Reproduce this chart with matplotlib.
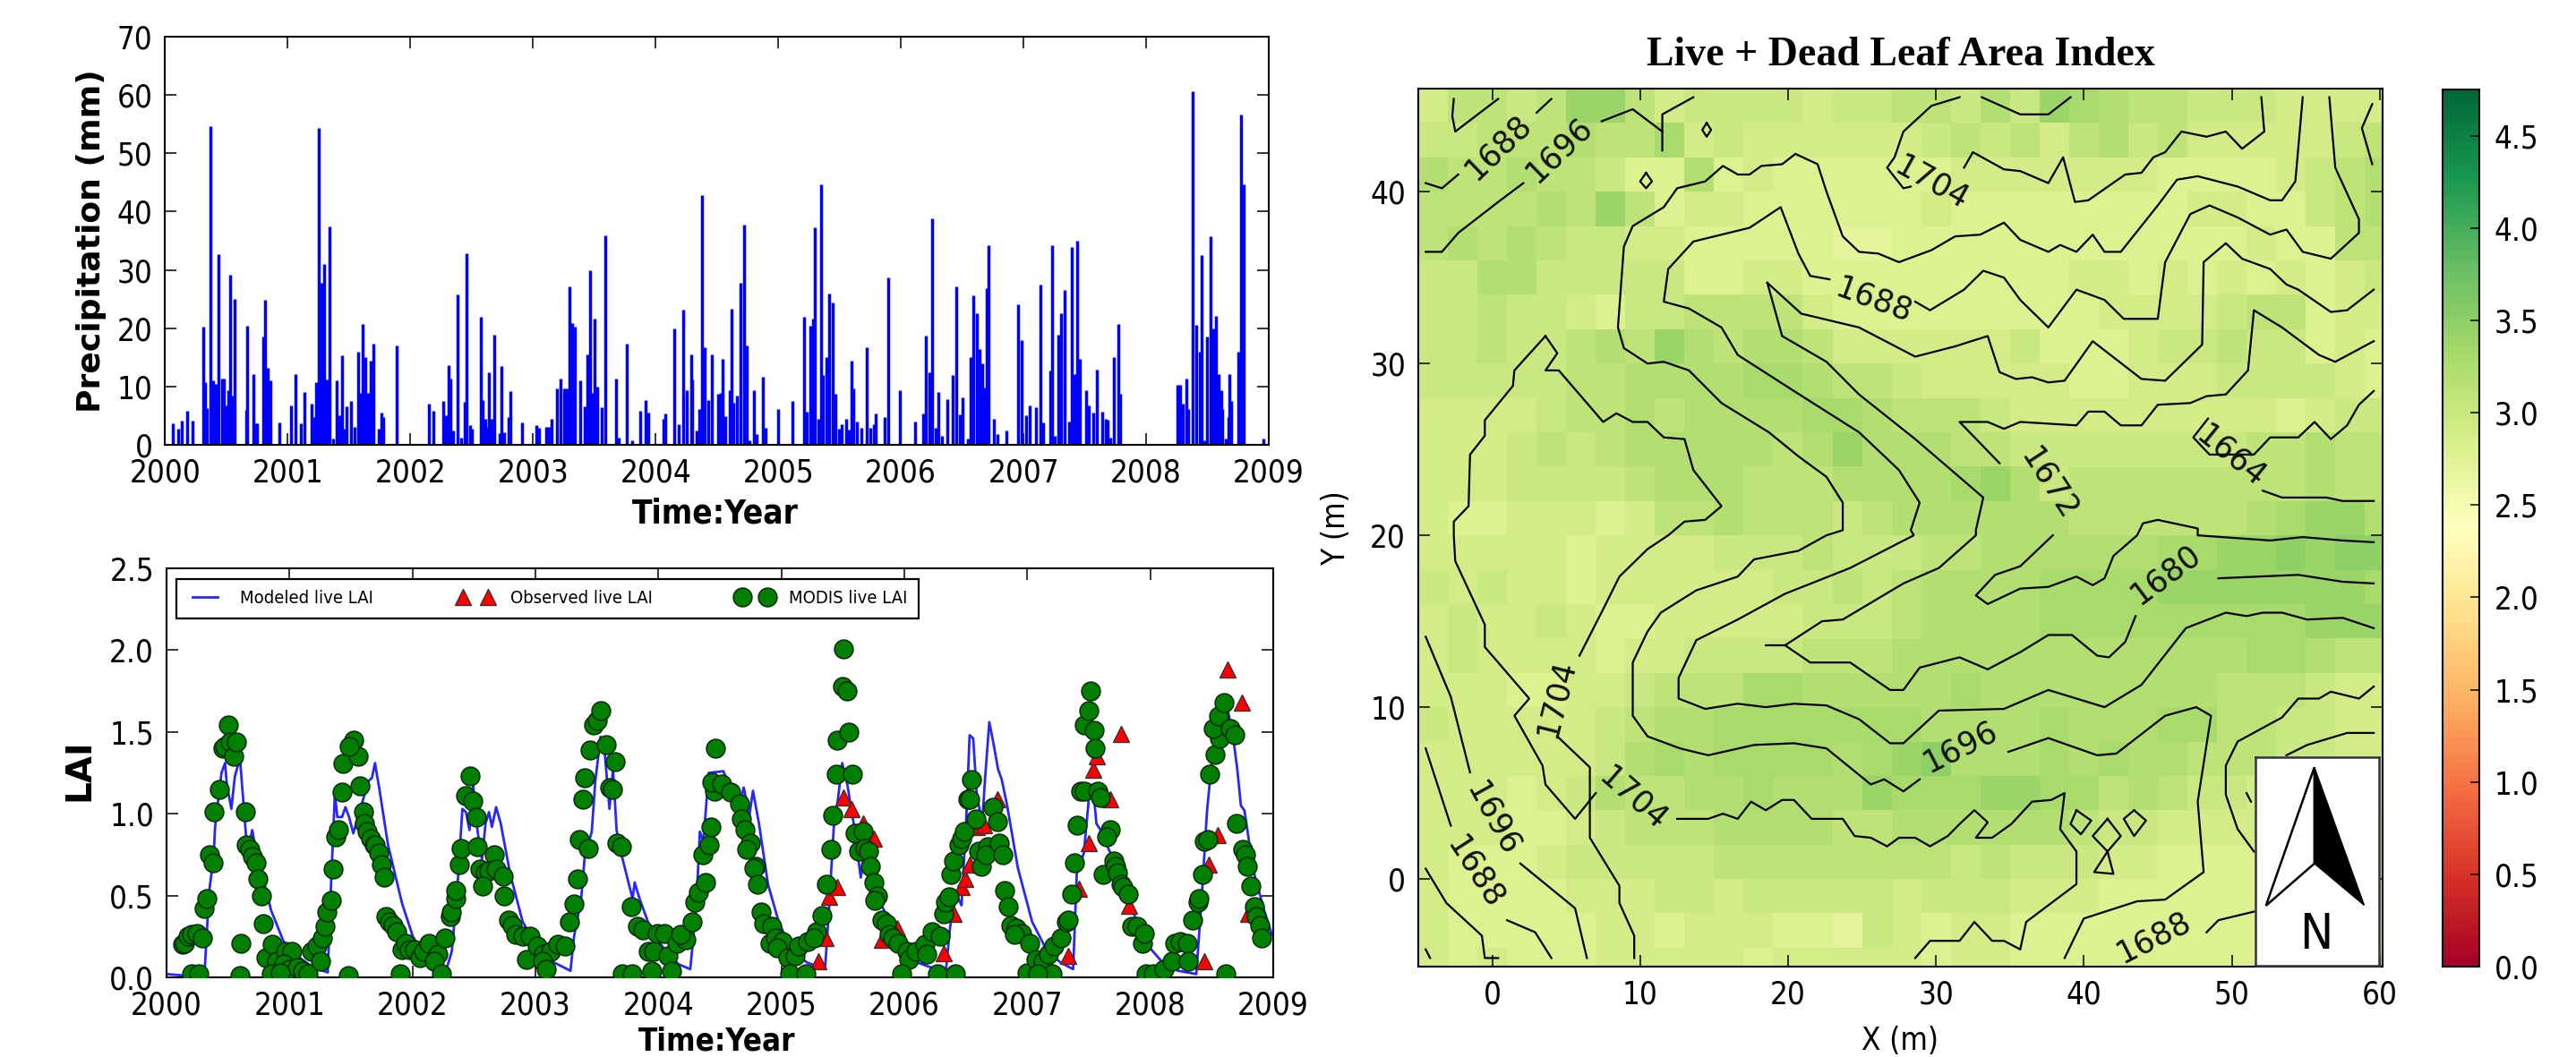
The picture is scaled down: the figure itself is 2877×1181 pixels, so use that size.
import matplotlib
matplotlib.use("Agg")
import matplotlib.pyplot as plt
from matplotlib.cm import ScalarMappable
from matplotlib.colors import Normalize
from matplotlib.patches import Polygon

# ---------- precipitation (years since 2000, mm) ----------
rain_years = [0.063,0.104,0.135,0.176,0.222,0.308,0.326,0.343,0.369,0.392,0.415,0.435,0.464,0.478,0.496,0.513,0.530,0.548,0.568,
 0.660,0.671,0.718,0.741,0.752,0.798,0.818,0.836,0.856,0.934,1.023,1.066,1.107,1.138,1.196,1.216,1.231,1.254,1.274,1.297,1.317,1.337,
 1.372,1.401,1.421,1.441,1.464,1.481,1.513,1.542,1.573,1.591,1.614,1.634,1.654,1.674,1.695,1.741,1.761,1.778,1.890,2.153,2.187,
 2.268,2.291,2.311,2.329,2.346,2.386,2.412,2.441,2.461,2.484,2.504,2.573,2.591,2.608,2.625,2.643,2.663,2.686,2.729,2.746,2.764,
 2.801,2.816,2.908,3.029,3.046,3.110,3.133,3.153,3.196,3.225,3.254,3.274,3.297,3.317,3.340,3.383,3.418,3.441,3.464,3.484,3.504,3.527,3.562,3.588,
 3.674,3.700,3.764,3.807,3.876,3.919,3.939,4.061,4.081,4.153,4.187,4.222,4.254,4.288,4.300,4.334,4.354,4.378,4.401,4.427,4.455,
 4.507,4.528,4.545,4.568,4.603,4.617,4.637,4.666,4.695,4.721,4.744,4.767,4.799,4.822,4.874,4.897,4.998,5.113,
 5.209,5.232,5.261,5.281,5.295,5.324,5.350,5.367,5.391,5.417,5.445,5.466,5.492,5.515,5.552,5.575,5.595,5.613,5.639,5.676,5.722,5.748,5.777,5.797,5.864,5.899,5.994,
 6.115,6.181,6.204,6.236,6.256,6.282,6.305,6.334,6.380,6.421,6.450,6.479,6.502,6.548,6.565,6.594,6.617,6.643,6.663,6.681,6.701,6.712,6.758,6.787,6.859,6.958,6.986,
 7.024,7.047,7.105,7.137,7.163,7.220,7.232,7.258,7.287,7.307,7.336,7.370,7.393,7.414,7.437,7.457,7.509,7.529,7.572,7.595,7.639,7.668,7.688,7.711,7.740,7.774,7.789,
 8.253,8.274,8.302,8.325,8.345,8.380,8.412,8.435,8.455,8.475,8.496,8.525,8.548,8.571,8.591,8.611,8.623,8.652,8.669,8.678,8.695,8.750,8.773,8.799,8.957]
rain_mm = [3.7,2.7,4.1,5.8,4.1,20.2,10.7,6.3,54.7,11.1,10.4,32.7,11.4,11.4,6.8,9.4,29.2,8.4,25.0,
 6.0,20.4,12.1,3.7,3.7,18.5,24.8,13.2,11.1,3.9,6.7,12.2,3.7,9.0,7.1,4.8,10.8,54.4,27.8,31.0,11.2,37.4,
 1.0,11.1,5.0,15.4,2.7,6.6,7.5,3.0,16.0,8.9,20.7,15.0,8.9,14.5,17.3,2.7,5.5,4.8,17.0,7.1,5.8,
 7.5,5.0,13.6,11.4,2.5,25.8,1.2,7.3,32.8,3.4,2.7,22.0,7.6,4.5,3.0,12.5,4.5,18.9,2.0,13.5,2.2,
 4.8,9.2,3.9,3.4,2.9,3.1,3.1,4.4,9.7,11.3,9.6,9.7,27.1,20.9,20.2,11.1,6.6,15.5,29.9,8.9,21.7,10.0,6.4,35.9,
 11.3,1.2,17.3,0.7,5.9,7.6,5.5,4.5,5.4,19.9,3.5,23.2,9.4,15.5,11.2,2.5,6.2,42.8,16.8,7.7,15.5,
 8.8,8.9,14.7,4.9,9.3,23.3,7.2,8.5,27.8,37.8,17.0,0.8,9.3,1.9,11.7,2.9,6.1,7.5,
 22.0,5.7,20.4,21.7,37.3,4.4,44.7,11.9,15.0,26.0,24.4,8.8,2.8,3.5,4.5,2.6,14.5,9.6,4.0,2.9,16.8,2.9,3.5,5.3,4.7,28.7,9.3,
 4.0,5.4,18.8,12.4,38.9,2.9,9.1,1.6,7.8,11.9,27.2,5.2,8.1,1.0,15.0,25.7,22.6,16.5,14.0,9.8,26.9,34.2,4.5,1.8,2.4,24.1,17.9,
 5.0,6.7,6.5,27.5,3.9,12.8,34.2,1.6,18.9,22.6,26.5,4.0,33.9,12.1,35.0,14.7,9.3,6.7,5.5,12.9,5.7,4.4,4.3,1.3,15.0,20.8,8.8,
 10.3,10.3,7.1,11.4,6.2,60.6,20.5,16.0,32.5,0.8,18.6,35.8,19.9,22.1,12.1,9.3,6.2,1.0,4.7,12.1,7.5,16.0,56.7,44.7,1.0]

# ---------- LAI (years since 2000) ----------
modeled_years = [0,.158,.308,.326,.346,.383,.395,.432,.447,.476,.490,.527,.556,.597,.625,.648,.677,.697,.729,.793,.850,.951,
 1.081,1.196,1.311,1.340,1.369,1.389,1.427,1.455,1.484,1.519,1.556,1.643,1.671,1.695,1.729,1.801,1.916,
 2.003,2.089,2.176,2.233,2.277,2.320,2.363,2.406,2.435,2.464,2.493,2.530,2.565,2.594,2.622,2.646,2.680,2.718,2.795,2.896,
 3.012,3.127,3.285,3.314,3.372,3.401,3.458,3.487,3.530,3.565,3.602,3.631,3.660,3.703,3.790,3.807,3.847,3.934,
 4.049,4.164,4.259,4.308,4.337,4.366,4.409,4.528,4.586,4.659,4.694,4.740,4.769,4.818,4.891,4.978,
 5.080,5.210,5.355,5.385,5.428,5.457,5.495,5.536,5.588,5.646,5.689,5.747,5.820,5.936,
 6.110,6.255,6.337,6.371,6.415,6.465,6.502,6.531,6.560,6.589,6.633,6.656,6.691,6.720,6.763,6.792,6.836,6.923,
 7.039,7.155,7.271,7.373,7.402,7.460,7.504,7.533,7.562,7.605,7.663,7.707,7.794,7.881,7.997,
 8.113,8.229,8.374,8.418,8.461,8.505,8.578,8.630,8.665,8.708,8.737,8.766,8.839,8.926,8.99]
modeled_lai = [.02,.01,.01,.25,.52,.74,.92,1.16,1.25,1.31,1.18,1.03,1.23,1.34,1.07,.85,.83,.90,.76,.58,.41,.22,
 .12,.06,.03,.61,1.12,.98,.98,1.04,.98,.88,.98,1.20,1.22,1.31,1.16,.81,.45,
 .25,.14,.08,.05,.05,.16,.52,1.03,1.01,.90,1.18,.89,.72,.94,1.01,.92,1.04,.94,.63,.34,
 .19,.10,.04,.25,.48,.74,.89,1.20,1.47,1.36,1.03,1.27,.90,.74,.48,.58,.48,.30,
 .17,.08,.05,.43,.89,.83,1.25,1.26,1.16,1.05,1.16,.99,1.14,.94,.57,.34,
 .17,.09,.05,.39,.94,1.07,1.31,1.18,.94,.61,.85,.65,.43,.28,
 .09,.05,.03,.30,.52,.44,.94,1.48,1.46,1.12,.94,1.21,1.56,1.45,1.27,1.21,1.05,.67,
 .34,.17,.09,.05,.63,.76,1.12,1.18,.94,.89,.78,.72,.54,.36,.18,
 .08,.04,.02,.48,1.01,1.36,1.51,1.63,1.52,1.27,1.05,1.02,.65,.41,.26]

observed_years = [5.298,5.356,5.385,5.451,5.507,5.573,5.666,5.753,5.945,5.820,6.319,6.401,6.465,6.494,6.531,6.589,6.647,6.755,
 7.335,7.417,7.498,7.678,7.539,7.567,7.759,7.829,8.438,8.476,8.549,8.630,8.746,8.795]
observed_lai = [.10,.24,.49,.55,1.10,1.03,.94,.85,.30,.23,.15,.39,.55,.60,.69,.92,.93,1.09,
 .13,.54,.82,1.09,1.27,1.35,1.49,.44,.10,.69,.87,1.88,1.68,.39]

modis_years = [.130,.144,.173,.202,.245,.288,.202,.259,.303,.331,.349,.380,.389,.432,.461,.476,.504,.519,.548,.568,.640,.605,.597,.648,.677,.700,.726,.741,.769,.787,.807,.856,.893,.850,.965,1.023,.951,.994,1.066,1.110,1.153,.922,
 1.182,1.225,1.254,1.268,1.291,1.306,1.340,1.352,1.375,1.398,1.427,1.438,1.556,1.522,1.484,1.571,1.599,1.608,1.628,1.657,1.686,1.700,1.729,1.744,1.772,1.476,1.787,1.816,1.844,1.873,1.916,1.945,1.974,2.017,2.061,2.089,2.133,2.205,2.176,2.262,2.234,
 2.306,2.314,2.349,2.355,2.383,2.398,2.430,2.470,2.487,2.516,2.530,2.551,2.594,2.623,2.666,2.680,2.738,2.574,2.747,2.781,2.810,2.839,2.896,2.954,2.925,3.012,3.069,3.127,3.185,3.242,1.902,
 3.277,3.314,3.343,3.358,3.430,3.386,3.401,3.444,3.473,3.502,3.530,3.574,3.646,3.602,3.623,3.660,3.698,3.781,3.833,3.876,3.991,4.049,3.919,3.963,3.948,4.078,4.107,4.150,4.222,4.179,4.271,4.294,4.323,4.381,3.055,3.084,3.703,3.790,4.360,4.409,4.424,4.453,4.438,4.467,
 4.514,4.586,4.659,4.673,4.702,4.746,4.717,4.789,4.775,4.804,4.833,4.856,4.920,4.906,4.949,5.007,4.964,5.051,5.109,5.138,5.210,5.283,5.268,5.327,5.065,5.196,
 5.370,5.405,5.419,5.457,5.550,5.448,5.579,5.495,5.536,5.507,5.602,5.666,5.631,5.681,5.710,5.724,5.753,5.785,5.762,5.820,5.855,5.878,5.907,5.951,6.023,6.038,6.096,6.168,6.226,6.290,6.183,5.980,6.270,6.415,
 6.319,6.334,6.363,6.378,6.401,6.444,6.465,6.488,6.517,6.531,6.546,6.581,6.720,6.755,6.604,6.627,6.676,6.662,6.772,6.798,6.813,6.842,6.865,6.909,6.952,6.894,7.016,6.996,7.068,7.126,7.170,7.213,7.271,7.315,7.335,7.199,7.083,
 7.365,7.382,7.408,7.431,7.460,7.460,7.498,7.513,7.547,7.553,7.576,7.597,7.672,7.643,7.620,7.701,7.721,7.730,7.765,7.780,7.817,7.852,7.896,7.934,7.948,7.968,8.026,8.113,8.177,8.200,8.244,8.302,8.311,
 8.346,8.389,8.398,8.427,8.438,8.470,8.485,8.528,8.563,8.514,8.555,8.601,8.650,8.688,8.703,8.752,8.775,8.787,8.819,8.848,8.859,8.889,8.906,8.613]
modis_lai = [.20,.21,.25,.26,.27,.24,.02,.02,.42,.48,.75,.70,1.01,1.15,1.40,1.41,1.54,1.44,1.35,1.44,1.01,.21,.01,.81,.78,.74,.70,.60,.50,.33,.12,.20,.10,.02,.16,.16,.08,.05,.06,.04,.02,.03,
 .16,.19,.10,.24,.31,.40,.47,.66,.86,.90,1.13,1.31,1.35,1.45,1.41,1.17,1.01,.94,.89,.85,.81,.81,.76,.69,.61,.01,.37,.34,.32,.28,.17,.21,.17,.17,.12,.16,.21,.14,.10,.24,.02,
 .37,.40,.48,.53,.69,.79,1.11,1.23,1.08,.98,.80,.66,.64,.65,.75,.66,.62,.56,.50,.35,.32,.26,.25,.25,.11,.19,.14,.16,.20,.19,.02,
 .34,.45,.60,.84,.79,1.09,1.22,1.39,1.54,1.57,1.63,1.42,1.32,1.16,1.15,.82,.80,.43,.31,.29,.27,.27,.16,.16,.04,.13,.04,.21,.23,.26,.34,.46,.52,.58,.10,.05,.02,.02,.75,.81,.92,1.14,1.19,1.40,
 1.18,1.13,1.06,.97,.90,.82,.78,.68,.67,.57,.40,.33,.31,.21,.24,.22,.18,.12,.13,.19,.22,.28,.24,.38,.02,.02,
 .57,.78,.99,1.45,1.50,1.24,1.24,1.78,1.75,2.01,.88,.89,.77,.79,.77,.68,.58,.50,.47,.35,.33,.26,.24,.21,.16,.11,.16,.20,.28,.25,.14,.02,.02,.02,
 .39,.46,.49,.63,.71,.81,.85,.89,1.09,1.09,1.21,.97,1.04,.95,.77,.68,.80,.75,.82,.75,.53,.43,.32,.30,.27,.26,.21,.03,.11,.10,.14,.19,.24,.34,.35,.02,.02,
 .51,.70,.93,1.14,1.14,1.54,1.63,1.75,1.51,1.40,1.14,1.10,.90,.86,.63,.71,.68,.64,.57,.55,.51,.31,.31,.21,.27,.02,.02,.05,.10,.21,.22,.21,.10,
 .35,.46,.48,.63,.83,.84,1.24,1.36,1.46,1.52,1.60,1.68,1.52,1.48,.94,.78,.75,.68,.56,.43,.37,.32,.24,.02]

# ---------- map: leaf area index, rows from y=46 down, digit d = 2.7 + 0.1*d ----------
lai_rows = [
 "244347742333323344353765443332222",
 "334445446232222223434245342222234",
 "544544311512111111222222211112345",
 "444454741221111112111111112211345",
 "454543322111110011111111111121144",
 "335533333112211111111122121212123",
 "334332133444421111111112222344122",
 "334334547545542222223111233433121",
 "333334455556654432222211222333321",
 "222234454555566544432222222221233",
 "222343455555457555443333333344544",
 "222333345554445555675344444444544",
 "211222124454443455555544444456775",
 "222221222233343334455555566778788",
 "323221222222334345555666677777776",
 "232232112222233345555666666666777",
 "232222122333344455555555555566544",
 "222112234446655555655555555444322",
 "322222345566666665555655566443322",
 "222222356566665678555656554443322",
 "222123544556555766677664543323222",
 "222112344455554455555543322222233",
 "211123333344444444343332211113333",
 "211112223323333323332221111112222",
 "211111221222110321221111111111111",
 "212111222221222221221111111112122",
]
lai_base, lai_step = 2.7, 0.1
map_x_edges = [-5 + 2 * i for i in range(34)]
map_y_edges = [46 - 2 * i for i in range(27)]

# ---------- elevation contours (x, y in m) ----------
contour_lines = [
 [(-2.6,45.4),(-2.7,44.4),(-2.5,43.5),(0.4,45.4)],
 [(4,45.4),(3,44.6)],
 [(-2.3,41),(-3.4,40.2),(-4.5,40.5)],
 [(13.6,45.5),(11.5,44.5),(11.5,42.4)],
 [(11.5,43.5),(9.5,44.8),(7.4,44.1)],
 [(2.1,40.5),(0.4,39.4),(-2.3,37.6),(-3.4,36.5),(-4.5,36.5)],
 [(14.5,44),(14.8,43.6),(14.5,43.2),(14.2,43.6),(14.5,44)],
 [(10.4,41.1),(10.8,40.6),(10.4,40.2),(10,40.6),(10.4,41.1)],
 [(31.6,45.5),(29.7,45),(27.8,43.5),(27.2,42),(26.7,41.4),(27.8,40.2),(28.3,40.3)],
 [(31.9,41.4),(32.5,42.3),(34.6,41.3),(35.7,41.2),(37.6,40.5),(38.6,42),(39.4,39.4),(40.3,39.5),(42.8,41),(43.9,41.1),(44.7,42),(45.5,42.3),(46.6,43.5),(48.3,43.2),(49.6,43.5),(50.7,42.5),(52.2,43.5),(52,45.5)],
 [(33.1,45.5),(35.7,44.5),(37.6,44.5),(39.1,45.5)],
 [(54.8,45.5),(54.3,40.6),(53.4,39.5),(52.6,39.5),(50.4,40.3),(47.7,40.9),(46.3,40.7),(45,39.2),(42.5,36.5),(41.4,36.5),(40.6,37.5),(39.5,36.5),(38.4,36.9),(37.6,36.5),(35.7,37.2),(34.6,38.2),(33,37.5),(31.3,37.4),(29.7,36.6),(27.5,35.9),(26.1,36.4),(24.8,36.5),(23.7,37.4),(22.6,40),(22,41.6),(20.5,42.2),(19.6,41.6),(18.2,41.5),(17.4,41),(16.6,41),(15.6,41.5),(14.4,40.6),(12.5,40.2),(11.6,39.1),(9.5,38),(8.9,36.8),(8.5,32.1),(8.9,30.9),(10.5,30),(11.6,30.1),(13.3,29.6),(15.5,27.7),(18.7,26),(20.7,24.6),(22.6,23.4),(23.7,21.9),(23.7,20.3),(22.6,20),(20.7,19.1),(17.7,18.6),(16.6,17.6),(13.8,16.8),(11.4,15.5),(10.5,14.4),(9.5,12.6),(9.5,9.5),(10.5,8.3),(12.7,7.6),(14.6,7.2),(17.7,7.8),(20.4,7.9),(22.6,7.6),(25.6,5.5),(26.5,5.8),(27.8,5.1),(28.9,5.8)],
 [(34.9,7.4),(37.6,8.2),(40.9,7.2),(42.2,7.3),(45.5,9.5),(47.6,10),(48.6,9.5),(47.7,4.5),(48.1,0.4),(45.5,-1.2),(43.6,-1.3),(40,-2.3),(38.7,-4.6)],
 [(56.6,45.5),(57,41.4),(58.6,38.4),(58.6,37.6),(56.7,36.1),(54.8,36.5),(53.7,37.8),(52.6,37.5),(50.4,38.5),(48.5,39.2),(47.2,38.7),(45.5,35.9),(45,32.6),(42.7,32.6),(41.4,33.7),(39.5,34.3),(37.6,32.1),(35.7,33.7),(34.6,35),(33.2,35.4),(31.9,34.3),(29.6,33.1),(28.6,33.6)],
 [(22.8,34.9),(21.5,35.1),(20.7,36.4),(19.5,39.1),(17.4,37.9),(13.6,37.1),(11.9,35.5),(11.6,33.6),(13.3,33.2),(15.5,32.1),(16.6,30.5),(20.4,28.4),(24.8,26),(27.5,23.8),(28.9,21.9),(28.3,20.3),(28.5,20),(24.2,18.1),(19.8,16.6),(16.6,15.1),(13.8,13.9),(12.6,11.7),(12.6,10.5),(14.4,9.9),(16.6,10.2),(18.5,10),(20.4,10.2),(22.6,10.1),(24.8,9.3),(26.9,7.9),(27.8,7.9),(30.2,9.8),(34.6,9.9),(37.6,11),(41.4,10),(43.9,11.3),(46.9,14.6),(49.6,15.5),(51,15.3),(52.1,15.5),(53.4,15.5),(55.1,15.1),(57.5,15.2),(59.6,14.6)],
 [(18.6,34.7),(20.9,32.9),(24.8,32.1),(28.6,30.4),(31.3,31),(33.5,31.6),(34.3,29.5),(35.4,29.1),(36.5,29.2),(37.6,28.9),(38.7,29),(40.6,31.3),(43.9,29.1),(45.5,29),(48,31.1),(48.1,35.9),(49.6,37),(50.7,36.1),(52.6,35.5),(53.7,34.6),(54.5,34.3),(56.7,33),(57.8,33.1),(59.6,34.3)],
 [(18.6,34.7),(19.6,31.6),(22.6,30.1),(24.8,28.2),(28.6,25.6),(33.2,22.2),(32.7,20.3),(32.7,20),(30.2,18.1),(27.8,17.2),(23.7,15.1),(22.3,15),(19.8,13.6),(18.5,13.6)],
 [(19.8,13.6),(21.5,12.6),(24.2,12.6),(26.9,11),(27.8,11),(28.9,12.3),(31.6,12.9),(33.5,12.2),(35.7,13.2),(37.6,14.2),(39.2,14.2),(40.9,13),(41.7,12.9),(42.8,13.8),(43.5,15.3)],
 [(59.6,31.3),(57,30.1),(55.9,30.5),(53.4,32.1),(51.5,33.1),(51.1,29.6),(49.6,28.2),(48.3,28.1),(47.2,27.7),(45,27.6),(43.9,26.4),(42.5,26.4),(41.4,27.2),(40.3,27.2),(39.5,26.4),(35.7,26.6),(34.6,26.2),(33.5,26.6),(31.6,26.6),(34.3,24.2)],
 [(37.9,20),(35.7,18.2),(34,17.7),(32.7,16.5),(33.5,16),(35.7,16.9),(37.6,17),(39.5,17.6),(40.6,17.1),(41.4,17.5),(42,18.8),(43.6,20),(44,20.7),(45,20.9),(47.7,20.4),(47.7,20),(52.6,19.7),(54.8,19.9),(57.5,19.7),(59.6,19.6)],
 [(59.6,28.4),(58.6,27.6),(57.8,26.4),(56.7,25.6),(55.6,26.6),(54.5,25.7),(52.6,25.7),(51.5,24.7),(48.5,24.7),(47.4,25.7),(48.4,26.8)],
 [(52.1,22.6),(53.4,22.2),(56.4,22.2),(57.5,22),(59.6,22)],
 [(49.1,17.5),(54.5,17.7),(57.5,17.3),(59.6,17.2)],
 [(59.6,11.2),(58.6,10.5),(56.7,10.9),(55.9,10.5),(54.5,10.5),(53.4,9.4),(50.4,8),(49.6,6.6),(49.6,4.9),(50.4,2.9),(51.5,1.6)],
 [(59.6,8.5),(57.8,8.5),(55.1,7.8),(53.7,7.2)],
 [(51,5),(51.3,4.5)],
 [(48.3,-3.1),(49.1,-2.4),(51.5,-1.9)],
 [(3.6,31.6),(4.4,30.6),(3.6,29.6),(4.5,29.6),(7.5,26.6),(8.4,27.1),(9.5,26.6),(10.5,26.6),(11.6,25.7),(13,25.6),(13.6,23.8),(15.5,21.7),(14.4,20.9),(13,20.8),(11.9,20),(10.5,19.2),(8.6,17.6),(7.5,15.7),(5.9,13)],
 [(3.6,31.6),(1.5,29.6),(1.4,28.7),(-0.5,26.7),(-0.5,25.8),(-1.5,24.7),(-1.6,21.7),(-2.6,20.8),(-2.6,20),(-2.5,18.5),(-0.5,14.8),(-0.5,13.5),(2.5,10.5),(1.5,9.5),(3.4,6.6),(3.6,5.5),(5.6,3.5),(7,5)],
 [(4.4,8.3),(6.6,6.5),(6.6,2.4),(8.6,-0.4),(8.6,-1.4),(9.6,-3.3),(9.6,-4.6)],
 [(-4.5,14.1),(-2.8,10.6),(-1.5,6.2)],
 [(1.9,0.9),(5.6,-1.7),(6.4,-4.6)],
 [(-4.5,7.6),(-2.8,3.1)],
 [(1,-2.4),(2.9,-3.1),(4,-4.6)],
 [(-4.5,0.6),(-3.1,-1.4),(-0.7,-3.3),(-0.5,-4.6),(0.4,-4.6)],
 [(-4.5,-4.1),(-4.2,-4.6)],
 [(28.6,-4.6),(29.6,-3.6),(31.6,-3.6),(32.6,-2.5),(33.8,-3.6),(34.6,-3.6),(35.7,-4.1),(36.1,-2.5),(39.5,-0.3),(39.5,1.6),(38.4,2.9),(38.7,5),(37.8,4.6),(36.5,4.5),(35.1,3.2),(33.8,2.4),(32.7,2.4),(33.5,3.3),(32.6,4),(31.6,3.2),(30.8,2.5),(29.6,1.9),(28.6,2.4),(27.5,2.4),(26.7,1.9),(25.6,2.4),(24.5,2.5),(23.7,3.5),(21.6,3.5),(20.4,4.6),(19.6,4.6),(18.5,4),(17.5,4.5),(16.6,3.5),(15.6,3.8),(14.6,3.5),(12.5,3.5)],
 [(39.5,4),(40.5,3.4),(39.8,2.6),(39.1,3.2),(39.5,4)],
 [(43.4,4),(44.2,3.4),(43.4,2.5),(42.7,3.5),(43.4,4)],
 [(41.6,3.5),(42.5,2.5),(41.6,1.6),(42,0.3),(40.7,0.4),(41.6,1.6),(40.6,2.5),(41.6,3.5)],
 [(59.5,45.1),(58.8,43.7),(59.5,41.6)],
]
contour_labels = ["1688","1696","1704","1688","1672","1664","1680","1696","1704","1704","1696","1688","1688"]
contour_label_x = [0.4,4.5,29.7,25.8,37.6,49.9,45.5,31.6,4.3,9.5,0,-1.2,44.7]
contour_label_y = [42.6,42.4,40.5,33.7,23,24.6,17.7,7.7,10.5,4.7,3.5,0.4,-3.4]
contour_label_angle = [44,44,-29,-20,-57,-39,37,27,76,-41,-61,-57,27]

year_ticks = list(range(2000, 2010))
rain_ticks = list(range(0, 71, 10))
lai_ticks = [0.0, 0.5, 1.0, 1.5, 2.0, 2.5]
map_x_ticks = list(range(0, 61, 10))
map_y_ticks = list(range(0, 41, 10))
cbar_ticks = [0.0, 0.5, 1.0, 1.5, 2.0, 2.5, 3.0, 3.5, 4.0, 4.5]

# ---------- layout ----------
W, H = 2877, 1181
def rect(l, t, r, b):
    return [l / W, 1 - b / H, (r - l) / W, (b - t) / H]

fig = plt.figure(figsize=(W / 100, H / 100), dpi=100, facecolor="white")
COND = dict(family="DejaVu Sans", stretch="condensed")
TICK = 25

def style(ax):
    ax.tick_params(which="both", direction="in", top=True, right=True, length=9.5, width=1.1,
                   pad=10.5, labelsize=TICK)
    ax.tick_params(axis="y", pad=10)
    for lab in ax.get_xticklabels() + ax.get_yticklabels():
        lab.set_fontstretch("condensed")
    for s in ax.spines.values():
        s.set_linewidth(1.5)

# precipitation
a1 = fig.add_axes(rect(184.4, 41, 1417, 497))
a1.vlines([2000 + t for t in rain_years], 0, rain_mm, color="#0000ff", lw=2.5)
a1.plot([2000, 2009], [0, 0], color="#0000ff", lw=2.2)
a1.set_xlim(2000, 2009); a1.set_ylim(0, 70)
a1.set_xticks(year_ticks); a1.set_yticks(rain_ticks)
style(a1)
fig.text(102 / W, 1 - 269 / H, "Precipitation (mm)", rotation=90, ha="center", va="center",
         fontsize=26, fontweight="bold")
fig.text(799 / W, 1 - 574 / H, "Time:Year", ha="center", va="center", fontsize=26.5,
         fontweight="bold", **COND)

# LAI
a2 = fig.add_axes(rect(186, 635, 1422, 1092))
a2.plot([2000 + t for t in modeled_years], modeled_lai, color="#0000ff", lw=2, alpha=0.85,
        label="Modeled live LAI", zorder=2)
a2.plot([2000 + t for t in observed_years], observed_lai, ls="none", marker="^", ms=13,
        mfc="#ff0000", mec="#333333", mew=1, label="Observed live LAI", zorder=3)
a2.plot([2000 + t for t in modis_years], modis_lai, ls="none", marker="o", ms=15,
        mfc="#007f00", mec="#0a2a0a", mew=1.1, label="MODIS live LAI", zorder=4)
a2.set_xlim(2000, 2009); a2.set_ylim(0, 2.5)
a2.set_xticks(year_ticks); a2.set_yticks(lai_ticks)
a2.set_yticklabels([f"{v:.1f}" for v in lai_ticks])
style(a2)
leg = a2.legend(loc="upper left", bbox_to_anchor=(0.009, 0.973), ncol=3, numpoints=2,
                frameon=True, fancybox=False, framealpha=1, edgecolor="black", borderaxespad=0,
                prop=dict(family="DejaVu Sans", stretch="condensed", size=14.5), handlelength=2.0,
                columnspacing=4.7, handletextpad=0.9, borderpad=0.6)
leg.get_frame().set_linewidth(1.6)
leg.set_zorder(6)
fig.text(88 / W, 1 - 860 / H, "LAI", rotation=90, ha="center", va="center", fontsize=28,
         fontweight="bold")
fig.text(801 / W, 1 - 1164 / H, "Time:Year", ha="center", va="center", fontsize=25,
         fontweight="bold", **COND)

# map
a3 = fig.add_axes(rect(1584, 99, 2661, 1080))
grid = [[lai_base + lai_step * int(c) for c in row] for row in lai_rows]
cmap = plt.get_cmap("RdYlGn")
norm = Normalize(0, 4.75)
a3.pcolormesh(map_x_edges, map_y_edges, grid, cmap=cmap, norm=norm, shading="flat", rasterized=True)
for line in contour_lines:
    a3.plot([p[0] for p in line], [p[1] for p in line], color="black", lw=1.6, zorder=3)
for s, x, y, r in zip(contour_labels, contour_label_x, contour_label_y, contour_label_angle):
    a3.text(x, y, s, rotation=r, rotation_mode="anchor", ha="center", va="center", fontsize=25,
            color="#111111", zorder=4)
a3.set_xlim(-5, 60.2); a3.set_ylim(-5.1, 46)
a3.set_xticks(map_x_ticks); a3.set_yticks(map_y_ticks)
style(a3)
a3.set_title("Live + Dead Leaf Area Index", family="Liberation Serif", fontweight="bold",
             fontsize=33, x=0.5, pad=19)
fig.text(2122 / W, 1 - 1163 / H, "X (m)", ha="center", va="center", fontsize=25, **COND)
fig.text(1492 / W, 1 - 590 / H, "Y (m)", rotation=90, ha="center", va="center", fontsize=25, **COND)

# north arrow
a4 = fig.add_axes(rect(2519, 846, 2657, 1079), zorder=5)
a4.set_xlim(0, 1); a4.set_ylim(0, 1); a4.set_xticks([]); a4.set_yticks([])
for s in a4.spines.values():
    s.set_linewidth(1.8); s.set_color("#333344")
a4.add_patch(Polygon([(.477,.952),(.085,.288),(.477,.49)], fc="white", ec="black", lw=1.8))
a4.add_patch(Polygon([(.477,.952),(.88,.29),(.477,.49)], fc="black", ec="black", lw=1))
a4.text(.49, .145, "N", ha="center", va="center", fontsize=40, **COND)

# colour bar
a5 = fig.add_axes(rect(2728, 100, 2769, 1080))
cb = fig.colorbar(ScalarMappable(norm=norm, cmap=cmap), cax=a5, ticks=cbar_ticks)
cb.ax.set_yticklabels([f"{v:.1f}" for v in cbar_ticks])
cb.ax.tick_params(direction="in", length=7, width=1.1, pad=12, labelsize=TICK)
for lab in cb.ax.get_yticklabels():
    lab.set_fontstretch("condensed")
cb.outline.set_linewidth(1.5)

fig.savefig("out.png", dpi=100, facecolor="white")
